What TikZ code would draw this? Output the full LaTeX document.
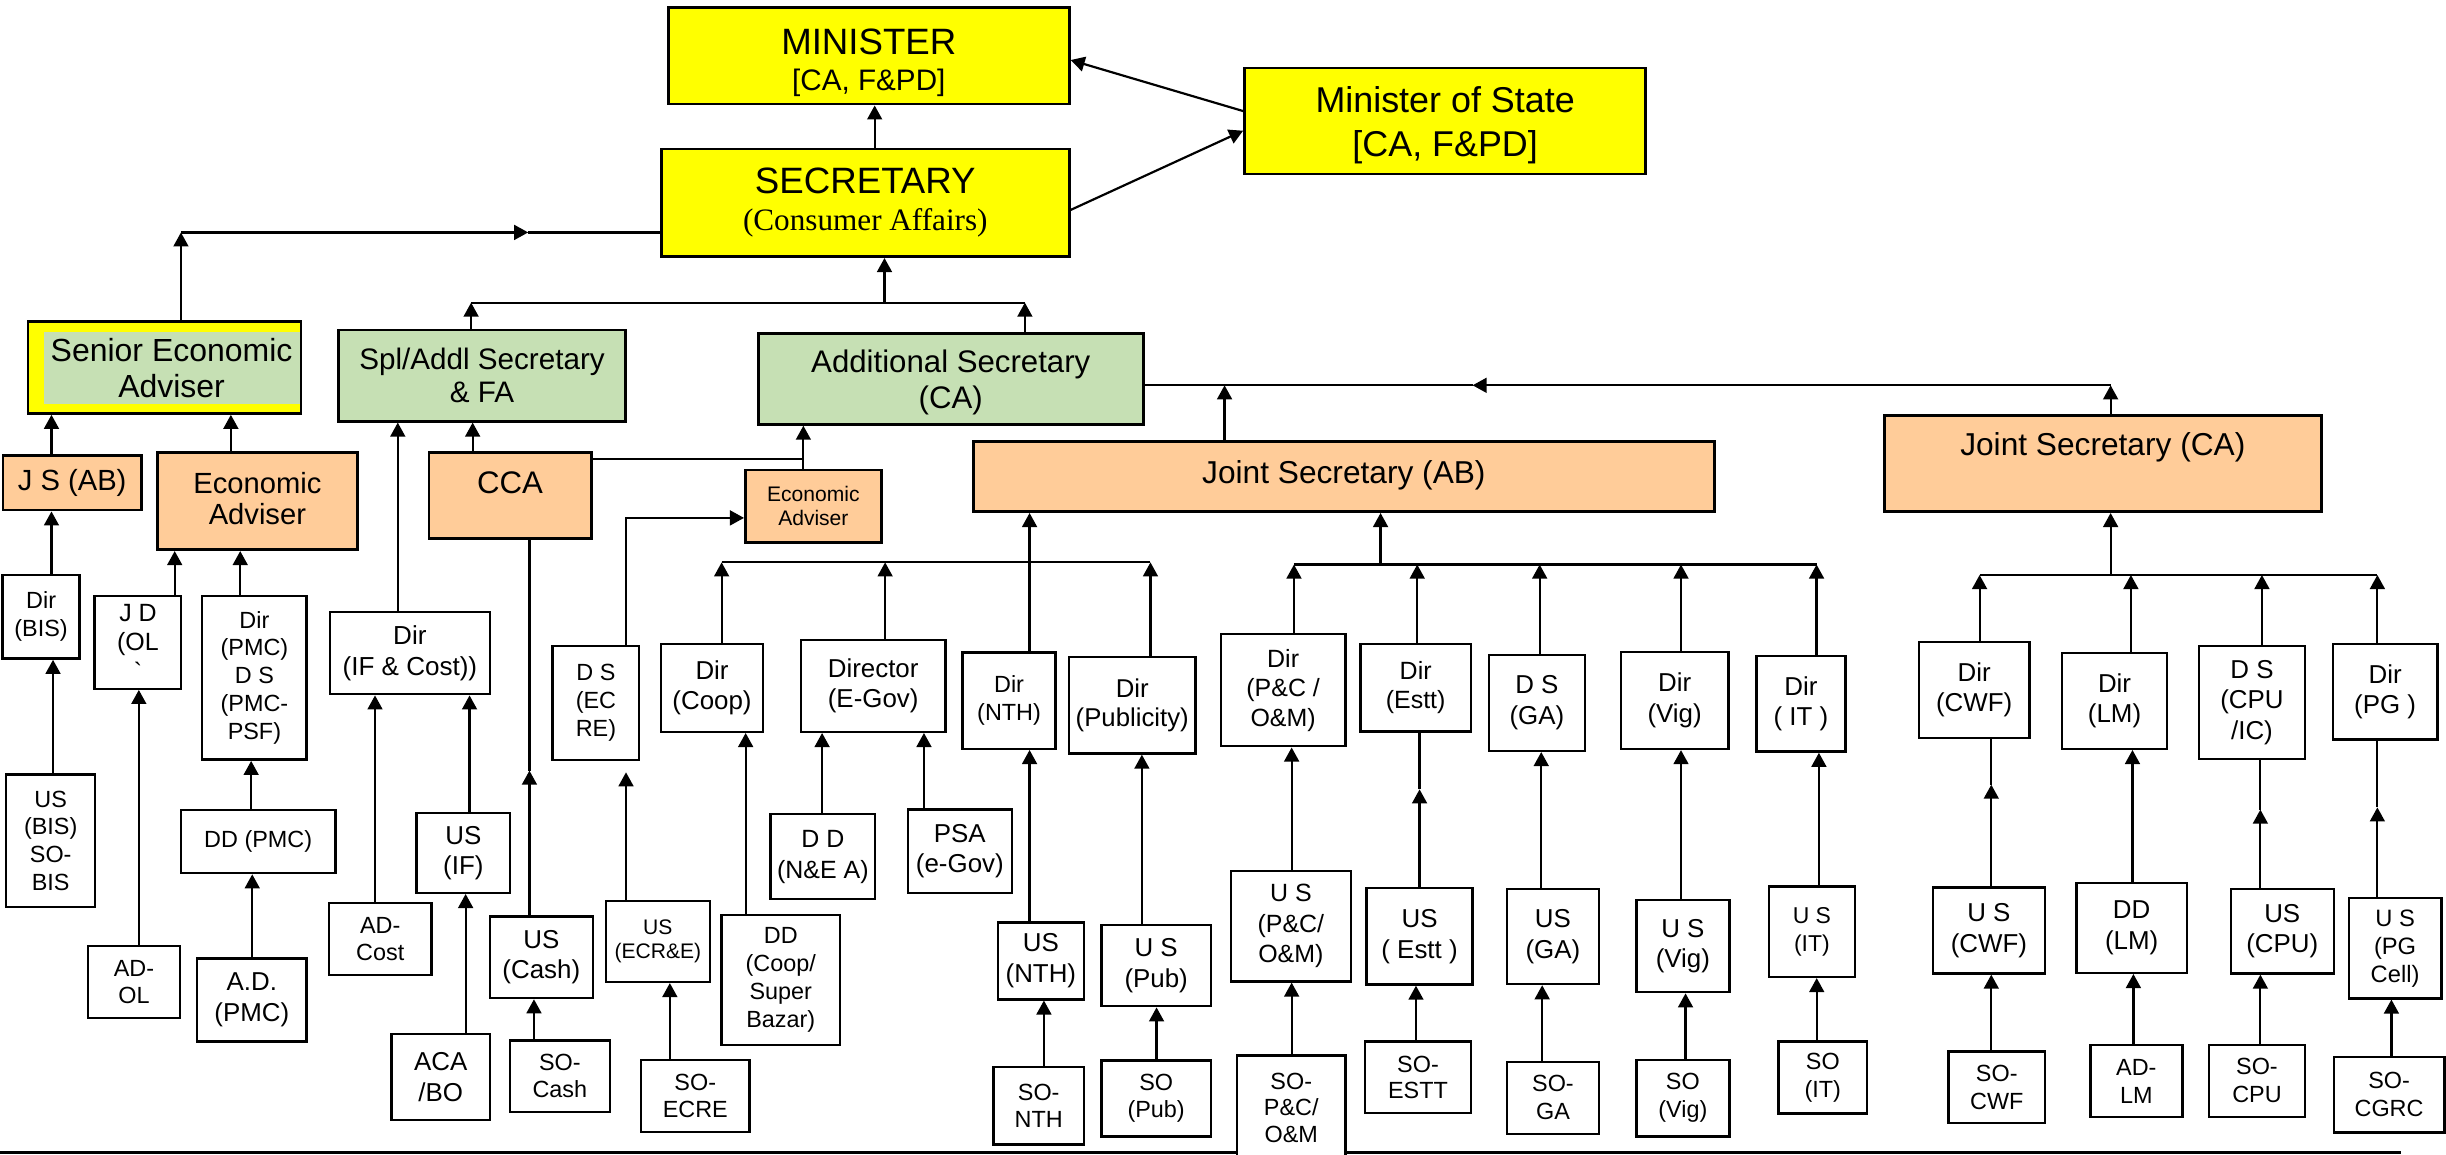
\documentclass[tikz,border=0pt]{standalone}
\usepackage{fontspec}
\setmainfont{Liberation Sans}
\newfontfamily\tnrfont{Liberation Serif}
\usetikzlibrary{arrows.meta}
\definecolor{cYel}{HTML}{FFFF00}
\definecolor{cGrn}{HTML}{C6E0B4}
\definecolor{cOrg}{HTML}{FFCC99}
\newcommand\fsz[2]{\fontsize{#1}{#2}\selectfont}
\newcommand\strutup[1]{\rule{0pt}{#1pt}}
% \ob[style]{name}{x1}{y1}{x2}{y2}{text}
\newcommand\ob[7][]{\node[bx,#1,minimum width={(#5)-(#3)},minimum height={(#6)-(#4)}] (#2) at ({((#3)+(#5))/2},{((#4)+(#6))/2}) {#7};}
\tikzset{
  bx/.style={draw, line width=1.55pt, fill=white, inner sep=0pt, align=center, font=\fsz{15}{17.9}},
  ytop/.style={fill=cYel, line width=1.8pt, font=\fsz{23.5}{23}},
  ybox/.style={fill=cYel, line width=1.8pt},
  gbox/.style={fill=cGrn, line width=1.8pt, font=\fsz{20}{23}},
  obox/.style={fill=cOrg, line width=1.7pt, font=\fsz{18.7}{20}},
  fm/.style={font=\fsz{16.6}{19.6}},
  fsm/.style={font=\fsz{13.5}{15.6}},
  ar/.style={-{Triangle[length=9pt,width=9.5pt]}, line width=1.4pt},
  ln/.style={line width=1.4pt},
}
\begin{document}
\begin{tikzpicture}[x=1pt,y=-1pt]
\useasboundingbox (0,0) rectangle (1568,740.4);
\fill[white] (0,0) rectangle (1568,740.4);
% bottom rule
\draw[line width=1.5pt] (0,738.7) -- (1539,738.7);

% ---- top level
\ob[ytop]{min}{428.5}{4.7}{685.4}{66.7}{\strutup{25}MINISTER\\{\fsz{19}{23}[CA, F\&PD]}}
\ob[ytop,font=\fsz{23}{28}]{mos}{797.8}{43.6}{1055}{111.5}{\strutup{22}Minister of State\\{[CA, F\&PD]}}
\ob[ytop,font=\fsz{23.5}{24}]{sec}{424}{95.5}{685.4}{164.5}{SECRETARY\\{\tnrfont\fsz{20}{24}(Consumer Affairs)}}

% ---- second level
\ob[ybox]{sea}{18}{206}{193}{265}{}
\ob[gbox,draw=none,font=\fsz{20.5}{23}]{seain}{28}{213}{192}{259}{Senior Economic\\Adviser}
\ob[gbox,font=\fsz{19}{21.5}]{spl}{217}{211.5}{401}{270}{Spl/Addl Secretary\\\& FA}
\ob[gbox]{addsec}{486}{214}{733}{272}{\strutup{19}Additional Secretary\\(CA)}

% ---- orange level
\ob[obox]{jsab}{624}{283}{1099}{328}{}
\node[font=\fsz{20.3}{23}, anchor=base] (jsabt) at (861.5,310.1) {Joint Secretary (AB)};
\ob[obox]{jsca}{1208}{266.5}{1488}{328}{}
\node[font=\fsz{20.3}{23}, anchor=base] (jscat) at (1348,292.3) {Joint Secretary (CA)};
\ob[obox]{jsab2}{2}{292}{90.5}{327}{J S (AB)}
\ob[obox]{ea}{101}{290}{229}{352.4}{Economic\\Adviser\rule[-3pt]{0pt}{3pt}}
\ob[obox]{cca}{275}{290}{379}{345.2}{}
\node[font=\fsz{20}{23}, anchor=base] (ccat) at (327,316.4) {CCA};
\ob[obox,font=\fsz{13.5}{15.3}]{ea2}{477.8}{301.4}{565}{347.8}{Economic\\Adviser}

% ---- left white boxes
\ob{dirbis}{1.7}{368.6}{51}{422.2}{Dir\\(BIS)}
\ob[font=\fsz{16}{18.7}]{jdol}{60.7}{382}{116.2}{441.5}{J D\\(OL\\\textasciigrave}
\ob{dirpmc}{129.6}{382}{196.6}{487}{Dir\\(PMC)\\D S\\(PMC-\\PSF)}
\ob[font=\fsz{16.7}{20}]{dirif}{211.5}{392.5}{314}{445}{Dir\\(IF \& Cost))}
\ob{dsecre}{354.3}{414}{409.8}{487.3}{D S\\(EC\\RE)}
\ob{usbis}{4}{496.5}{61}{581.6}{US\\(BIS)\\SO-\\BIS}
\ob{ddpmc}{116}{519.3}{215}{559.7}{DD (PMC)}
\ob[fm]{usif}{267}{521.3}{327}{572.3}{US\\(IF)}
\ob[font=\fsz{15}{17.3}]{adol}{56.4}{606.6}{115.3}{652.7}{AD-\\OL}
\ob[fm]{adpmc}{126.2}{614.4}{196.6}{667.7}{A.D.\\(PMC)}
\ob{adcost}{211}{579}{276.5}{625}{AD-\\Cost}
\ob[fm]{uscash}{314}{587.6}{380}{639.8}{US\\(Cash)}
\ob[fsm]{usecr}{388.4}{577.5}{455}{629.4}{US\\(ECR\&E)}
\ob[fm]{acabo}{251}{663}{314}{717.8}{ACA\\/BO}
\ob[font=\fsz{15}{17.3}]{socash}{326.8}{667}{391}{713}{SO-\\Cash}
\ob[font=\fsz{15}{17.3}]{soecre}{411}{679.5}{480.4}{725.7}{SO-\\ECRE}

% ---- middle white boxes
\ob[fm]{dircoop}{423.7}{412.7}{489.2}{469.1}{Dir\\(Coop)}
\ob[fm]{diregov}{513.5}{410.4}{606}{469.1}{Director\\(E-Gov)}
\ob{dirnth}{617}{418.4}{676.7}{480}{Dir\\(NTH)}
\ob[font=\fsz{16.5}{18.7}]{dirpub}{685.3}{421.3}{766.3}{483}{Dir\\(Publicity)}
\ob[font=\fsz{16}{20}]{ddnea}{494}{521.9}{561}{576.4}{D D\\(N\&E A)}
\ob[fm]{psa}{582}{519}{648.6}{572.3}{PSA\\(e-Gov)}
\ob{ddcoop}{462.6}{586.7}{538.4}{670}{DD\\(Coop/\\Super\\Bazar)}
\ob[fm]{usnth}{639.8}{591.3}{694.7}{640.6}{US\\(NTH)}
\ob[fm]{uspub}{706}{593}{776.3}{645}{U S\\(Pub)}
\ob[font=\fsz{15}{17.3}]{sonth}{637}{683.9}{694.7}{733.7}{SO-\\NTH}
\ob[font=\fsz{15}{17.5}]{sopub}{706}{679.8}{776.3}{728.5}{SO\\(Pub)}

% ---- JS(AB) right white boxes
\ob[font=\fsz{16}{19}]{dirpc}{782.6}{406.6}{862.5}{478.4}{Dir\\(P\&C /\\O\&M)}
\ob[font=\fsz{16}{19}]{direstt}{872}{412.7}{943}{468.9}{Dir\\(Estt)}
\ob[fm]{dsga}{954.4}{419.9}{1016}{481.3}{D S\\(GA)}
\ob[fm]{dirvig}{1039}{417.9}{1108}{480.1}{Dir\\(Vig)}
\ob[fm]{dirit}{1126}{420.4}{1183}{481.8}{Dir\\( IT )}
\ob[font=\fsz{16}{19.6}]{uspc}{789}{558.2}{866}{629.1}{U S\\(P\&C/\\O\&M)}
\ob[fm]{usestt}{876}{569.4}{944}{631.1}{US\\( Estt )}
\ob[fm]{usga}{966}{570}{1025}{630.8}{US\\(GA)}
\ob[fm]{usvig}{1049}{576.9}{1108.6}{636}{U S\\(Vig)}
\ob[font=\fsz{14.7}{17.7}]{usit}{1134}{568.3}{1189}{626.2}{U S\\(IT)}
\ob[font=\fsz{15}{17}]{sopc}{793}{676.7}{862.5}{743.3}{SO-\\P\&C/\\O\&M}
\ob[font=\fsz{15}{17}]{soestt}{875}{667.7}{943}{713.5}{SO-\\ESTT}
\ob{soga}{966}{680.7}{1025}{726.8}{SO-\\GA}
\ob{sovig}{1049}{679.5}{1108.6}{728.5}{SO\\(Vig)}
\ob{soit}{1140}{667.7}{1197}{713.8}{SO\\(IT)}

% ---- JS(CA) white boxes
\ob[fm]{dircwf}{1230}{411.5}{1301}{473}{Dir\\(CWF)}
\ob[fm]{dirlm}{1322}{418.7}{1389}{480}{Dir\\(LM)}
\ob[fm]{dscpu}{1409.6}{414}{1477.6}{486.7}{D S\\(CPU\\/IC)}
\ob[fm]{dirpg}{1495.5}{412.7}{1562.4}{474}{Dir\\(PG )}
\ob[fm]{uscwf}{1239}{569}{1311}{624}{U S\\(CWF)}
\ob[fm]{ddlm}{1331}{566}{1402}{623.6}{DD\\(LM)}
\ob[fm]{uscpu}{1430}{570}{1496}{624}{US\\(CPU)}
\ob[font=\fsz{15.2}{17.9}]{uspg}{1505.7}{575.8}{1565}{640}{U S\\(PG\\Cell)}
\ob{socwf}{1249}{674}{1311}{720}{SO-\\CWF}
\ob{adlm}{1340}{670}{1399}{716}{AD-\\LM}
\ob{socpu}{1416}{669.8}{1477.6}{716}{SO-\\CPU}
\ob{socgrc}{1496}{677.6}{1567}{726}{SO-\\CGRC}

% ================= connectors
% top
\draw[ar] (sec.north -| 560.7,0) -- (min.south -| 560.7,0);
\draw[ar] (mos.west |- 0,71.2) -- (min.east |- 0,38.5);
\draw[ar] (sec.east |- 0,134.6) -- (mos.west |- 0,83.8);
% senior economic adviser to secretary
\coordinate (seaj) at (116,149);
\coordinate (seam) at (338.6,149);
\draw[ar] (sea.north -| seaj) -- (seaj);
\draw[ar] (seaj) -- (seam);
\draw[ln] (seam) -- (sec.west |- seam);
% bus under secretary
\coordinate (b1l) at (302,194);
\coordinate (b1m) at (567,194);
\coordinate (b1r) at (657,194);
\draw[ln] (b1l) -- (b1r);
\draw[ar] (spl.north -| b1l) -- (b1l);
\draw[ar] (addsec.north -| b1r) -- (b1r);
\draw[ar] (b1m) -- (sec.south -| b1m);
% bus to additional secretary
\coordinate (b2r) at (1353,247);
\coordinate (b2m) at (944,247);
\coordinate (b2j) at (785,247);
\draw[ar] (jsca.north -| b2r) -- (b2r);
\draw[ar] (b2r) -- (b2m);
\draw[ln] (b2m) -- (addsec.east |- b2m);
\draw[ar] (jsab.north -| b2j) -- (b2j);
% CCA and small economic adviser
\coordinate (ccaj) at (515,294);
\draw[ln] (cca.east |- ccaj) -- (ccaj);
\draw[ar] (ea2.north -| ccaj) -- (addsec.south -| ccaj);
\coordinate (ecj) at (401.3,332);
\draw[ar] (dsecre.north -| ecj) |- (ea2.west |- ecj);
% left part
\draw[ar] (jsab2.north -| 33,0) -- (sea.south -| 33,0);
\draw[ar] (ea.north -| 148,0) -- (sea.south -| 148,0);
\draw[ar] (dirbis.north -| 33,0) -- (jsab2.south -| 33,0);
\draw[ar] (usbis.north -| 34,0) -- (dirbis.south -| 34,0);
\draw[ar] (jdol.north -| 112,0) -- (ea.south -| 112,0);
\draw[ar] (dirpmc.north -| 154,0) -- (ea.south -| 154,0);
\draw[ar] (ddpmc.north -| 161,0) -- (dirpmc.south -| 161,0);
\draw[ar] (adpmc.north -| 161.7,0) -- (ddpmc.south -| 161.7,0);
\draw[ar] (adol.north -| 89,0) -- (jdol.south -| 89,0);
\draw[ar] (dirif.north -| 255,0) -- (spl.south -| 255,0);
\draw[ar] (cca.north -| 303,0) -- (spl.south -| 303,0);
\draw[ar] (usif.north -| 301,0) -- (dirif.south -| 301,0);
\draw[ar] (adcost.north -| 240.4,0) -- (dirif.south -| 240.4,0);
\draw[ar] (acabo.north -| 298.5,0) -- (usif.south -| 298.5,0);
\coordinate (cashm) at (339.4,494);
\draw[ar] (uscash.north -| cashm) -- (cashm);
\draw[ln] (cashm) -- (cca.south -| cashm);
\draw[ar] (socash.north -| 342.3,0) -- (uscash.south -| 342.3,0);
\draw[ar, shorten >=7pt] (usecr.north -| 401.3,0) -- (dsecre.south -| 401.3,0);
\draw[ar] (soecre.north -| 429.4,0) -- (usecr.south -| 429.4,0);
% middle part
\coordinate (b3l) at (462.6,360.5);
\coordinate (b3r) at (737.5,360.5);
\draw[ln] (b3l) -- (b3r);
\draw[ar] (dircoop.north -| b3l) -- (b3l);
\draw[ar] (diregov.north -| 567.4,0) -- (b3l -| 567.4,0);
\draw[ar] (dirpub.north -| b3r) -- (b3r);
\draw[ar] (dirnth.north -| 660,0) -- (jsab.south -| 660,0);
\draw[ar] (ddnea.north -| 527,0) -- (diregov.south -| 527,0);
\draw[ar] (psa.north -| 592.3,0) -- (diregov.south -| 592.3,0);
\draw[ar] (ddcoop.north -| 478,0) -- (dircoop.south -| 478,0);
\draw[ar] (usnth.north -| 660,0) -- (dirnth.south -| 660,0);
\draw[ar] (sonth.north -| 669.2,0) -- (usnth.south -| 669.2,0);
\draw[ar] (uspub.north -| 732,0) -- (dirpub.south -| 732,0);
\draw[ar] (sopub.north -| 741.4,0) -- (uspub.south -| 741.4,0);
% JS(AB) right part
\coordinate (b4l) at (829.5,361.9);
\coordinate (b4r) at (1164.5,361.9);
\coordinate (b4m) at (885,361.9);
\draw[ln] (b4l) -- (b4r);
\draw[ar] (b4m) -- (jsab.south -| b4m);
\draw[ar] (dirpc.north -| b4l) -- (b4l);
\draw[ar] (direstt.north -| 908.5,0) -- (b4l -| 908.5,0);
\draw[ar] (dsga.north -| 987,0) -- (b4l -| 987,0);
\draw[ar] (dirvig.north -| 1077.6,0) -- (b4l -| 1077.6,0);
\draw[ar] (dirit.north -| b4r) -- (b4r);
\draw[ar] (uspc.north -| 828,0) -- (dirpc.south -| 828,0);
\draw[ar] (sopc.north -| 828,0) -- (uspc.south -| 828,0);
\coordinate (esttm) at (910,506);
\draw[ar] (usestt.north -| esttm) -- (esttm);
\draw[ln] (esttm) -- (direstt.south -| esttm);
\draw[ar] (soestt.north -| 907.7,0) -- (usestt.south -| 907.7,0);
\draw[ar] (usga.north -| 988,0) -- (dsga.south -| 988,0);
\draw[ar] (soga.north -| 988.6,0) -- (usga.south -| 988.6,0);
\draw[ar] (usvig.north -| 1077.6,0) -- (dirvig.south -| 1077.6,0);
\draw[ar] (sovig.north -| 1080.5,0) -- (usvig.south -| 1080.5,0);
\draw[ar] (usit.north -| 1166,0) -- (dirit.south -| 1166,0);
\draw[ar] (soit.north -| 1164.6,0) -- (usit.south -| 1164.6,0);
% JS(CA) part
\coordinate (b5l) at (1269,368.6);
\coordinate (b5r) at (1524,368.6);
\coordinate (b5m) at (1353,368.6);
\draw[ln] (b5l) -- (b5r);
\draw[ar] (b5m) -- (jsca.south -| b5m);
\draw[ar] (dircwf.north -| b5l) -- (b5l);
\draw[ar] (dirlm.north -| 1366,0) -- (b5l -| 1366,0);
\draw[ar] (dscpu.north -| 1450,0) -- (b5l -| 1450,0);
\draw[ar] (dirpg.north -| b5r) -- (b5r);
\coordinate (cwfm) at (1276.5,503);
\draw[ar] (uscwf.north -| cwfm) -- (cwfm);
\draw[ln] (cwfm) -- (dircwf.south -| cwfm);
\draw[ar] (socwf.north -| 1276.5,0) -- (uscwf.south -| 1276.5,0);
\draw[ar] (ddlm.north -| 1367,0) -- (dirlm.south -| 1367,0);
\draw[ar] (adlm.north -| 1367.6,0) -- (ddlm.south -| 1367.6,0);
\coordinate (cpum) at (1449,519);
\draw[ar] (uscpu.north -| cpum) -- (cpum);
\draw[ln] (cpum) -- (dscpu.south -| cpum);
\draw[ar] (socpu.north -| 1449,0) -- (uscpu.south -| 1449,0);
\coordinate (pgm) at (1524,517.6);
\draw[ar] (uspg.north -| pgm) -- (pgm);
\draw[ln] (pgm) -- (dirpg.south -| pgm);
\draw[ar] (socgrc.north -| 1533,0) -- (uspg.south -| 1533,0);
\end{tikzpicture}
\end{document}
